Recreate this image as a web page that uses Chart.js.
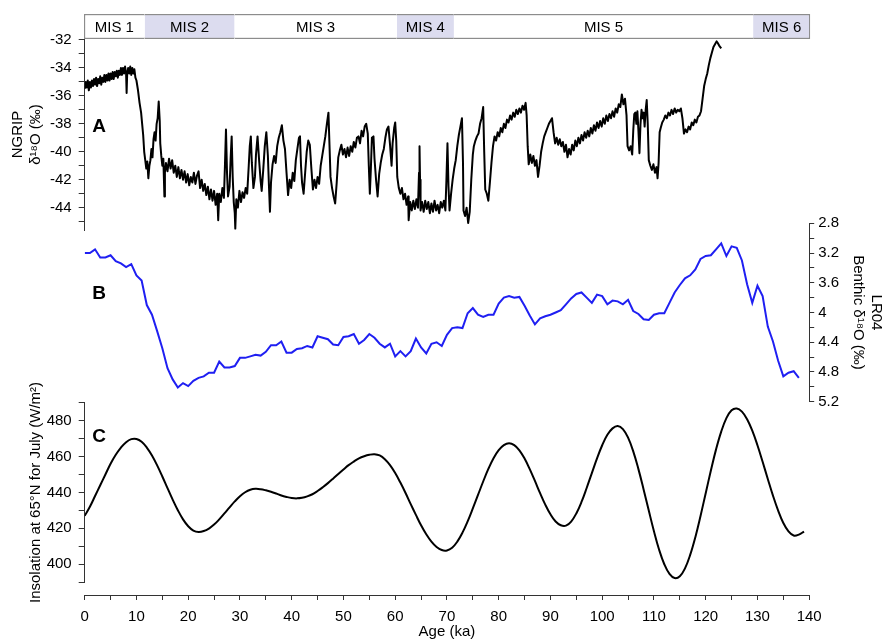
<!DOCTYPE html>
<html>
<head>
<meta charset="utf-8">
<script src="https://cdn.jsdelivr.net/npm/chart.js@4"></script>
<style>
body{margin:0;background:#fff}
#wrap{position:relative;width:885px;height:640px;background:#fff}
#wrap canvas{position:absolute;left:0;top:0}
</style>
</head>
<body>
<div id="wrap">
<canvas id="misChart" width="885" height="640"></canvas>
<canvas id="ngripChart" width="885" height="640"></canvas>
<canvas id="lr04Chart" width="885" height="640"></canvas>
<canvas id="insolChart" width="885" height="640"></canvas>
<canvas id="ageChart" width="885" height="640"></canvas>
</div>
<script>
// Marine isotope stages (ka)
const misStages = ['MIS 1', 'MIS 2', 'MIS 3', 'MIS 4', 'MIS 5', 'MIS 6'];
const misStart = [0, 11.7, 29, 60.3, 71.3, 129];
const misEnd = [11.7, 29, 60.3, 71.3, 129, 140];

// A - NGRIP d18O [age ka, permil]
const ngrip = [
  [0,-35.5],[0.2,-35.0],[0.4,-35.4],[0.6,-34.9],[0.8,-35.6],[1.0,-35.0],[1.2,-35.4],[1.4,-34.9],[1.6,-35.3],[1.8,-34.8],
  [2.0,-35.2],[2.2,-34.7],[2.4,-35.3],[2.6,-34.8],[2.8,-35.1],[3.0,-34.6],[3.2,-35.2],[3.4,-34.7],[3.6,-35.0],[3.8,-34.5],
  [4.0,-35.0],[4.2,-34.5],[4.4,-34.9],[4.6,-34.4],[4.8,-34.9],[5.0,-34.4],[5.2,-34.8],[5.4,-34.3],[5.6,-34.8],[5.8,-34.3],
  [6.0,-34.6],[6.2,-34.2],[6.4,-34.7],[6.6,-34.2],[6.8,-34.5],[7.0,-34.0],[7.2,-34.5],[7.4,-34.0],[7.6,-34.4],[7.8,-33.9],
  [8.0,-34.4],[8.1,-35.8],[8.2,-34.5],[8.4,-34.0],[8.6,-34.4],[8.8,-33.9],[9.0,-34.5],[9.2,-34.0],[9.4,-34.4],[9.6,-34.1],
  [9.8,-34.7],[10.0,-34.9],[10.3,-35.6],[10.6,-36.5],
  [10.9,-37.2],[11.1,-38.0],[11.3,-38.8],[11.5,-40.0],[11.7,-40.6],[11.9,-41.2],[12.1,-40.7],[12.3,-41.9],[12.5,-41.0],[12.7,-40.6],
  [12.9,-39.8],[13.1,-40.4],[13.3,-39.1],[13.5,-38.6],[13.7,-39.2],[13.9,-38.0],[14.1,-37.6],[14.3,-36.4],[14.5,-37.8],[14.6,-39.4],
  [14.8,-40.3],[15.0,-41.0],[15.2,-40.5],[15.4,-43.2],[15.5,-41.5],[15.7,-40.8],[16.0,-41.4],[16.3,-40.5],[16.6,-41.2],[16.9,-40.6],
  [17.2,-41.5],[17.5,-41.0],[17.8,-41.8],[18.1,-41.1],[18.4,-41.9],[18.7,-41.3],[19.0,-42.0],[19.3,-41.4],[19.6,-42.2],[19.9,-41.6],
  [20.2,-42.4],[20.5,-41.8],[20.8,-42.2],[21.1,-41.5],[21.4,-42.3],[21.7,-41.7],[22.0,-41.4],[22.3,-42.6],[22.6,-42.0],[22.9,-42.8],
  [23.2,-42.3],[23.5,-43.1],[23.8,-42.5],[24.1,-43.4],[24.4,-42.7],[24.7,-43.5],[25.0,-42.8],[25.3,-43.8],[25.6,-43.0],[25.8,-44.9],
  [26.0,-43.0],[26.3,-43.6],[26.6,-42.6],[26.9,-43.3],[27.1,-41.0],[27.3,-38.4],[27.5,-41.5],[27.7,-43.2],[28.0,-42.5],[28.2,-40.5],
  [28.4,-38.9],[28.6,-41.8],[28.8,-43.6],[29.0,-44.4],[29.1,-45.5],[29.3,-43.4],[29.6,-44.0],[29.9,-42.8],[30.2,-43.6],[30.5,-42.9],
  [30.8,-43.3],[31.1,-42.6],[31.4,-43.0],[31.7,-41.0],[31.9,-39.6],[32.1,-38.9],[32.3,-40.8],[32.6,-42.6],[32.9,-41.8],[33.1,-40.2],
  [33.4,-38.9],[33.7,-40.6],[34.0,-42.1],[34.2,-42.8],[34.5,-41.3],[34.8,-39.6],[35.1,-38.6],[35.4,-40.3],[35.6,-42.4],[35.8,-44.3],
  [36.0,-42.2],[36.3,-40.9],[36.6,-40.3],[36.9,-40.8],[37.2,-39.6],[37.5,-39.0],[37.8,-38.6],[38.1,-38.1],[38.4,-39.2],[38.7,-39.8],
  [39.0,-41.5],[39.3,-43.1],[39.6,-42.0],[39.9,-42.6],[40.2,-41.5],[40.5,-42.1],[40.8,-40.6],[41.1,-39.8],[41.4,-39.0],[41.6,-38.9],
  [41.8,-41.0],[42.0,-42.2],[42.3,-43.0],[42.6,-41.5],[42.9,-40.0],[43.2,-39.2],[43.5,-39.5],[43.8,-41.2],[44.1,-42.7],[44.4,-42.0],
  [44.7,-42.6],[45.0,-41.8],[45.3,-42.3],[45.6,-41.0],[45.9,-40.3],[46.2,-39.6],[46.5,-38.9],[46.8,-38.0],[47.1,-37.2],[47.3,-39.5],
  [47.5,-41.8],[47.8,-42.6],[48.1,-43.2],[48.4,-43.7],[48.7,-42.2],[49.0,-40.4],[49.3,-39.9],[49.6,-39.5],[49.9,-40.2],[50.2,-39.8],
  [50.5,-40.4],[50.8,-39.7],[51.1,-40.3],[51.4,-39.6],[51.7,-40.0],[52.0,-39.3],[52.3,-39.7],[52.6,-39.0],[52.9,-38.9],[53.2,-39.4],
  [53.5,-38.5],[53.8,-38.9],[54.1,-38.2],[54.4,-38.0],[54.7,-38.7],[54.9,-41.0],[55.1,-43.0],[55.3,-41.2],[55.5,-39.0],[55.8,-38.9],
  [56.0,-40.5],[56.3,-42.0],[56.6,-43.2],[56.9,-41.6],[57.2,-40.8],[57.5,-40.2],[57.8,-39.8],[58.1,-39.0],[58.4,-38.4],[58.7,-38.2],
  [59.0,-39.5],[59.3,-41.0],[59.5,-39.4],[59.8,-38.3],[60.0,-37.9],[60.2,-39.2],[60.4,-41.8],[60.7,-42.6],[61.0,-43.0],[61.3,-42.6],
  [61.6,-43.4],[61.9,-43.0],[62.2,-43.8],[62.5,-43.2],[62.6,-44.9],[62.9,-43.6],[63.2,-44.2],[63.5,-43.5],[63.8,-44.1],[64.1,-43.4],
  [64.4,-44.0],[64.6,-41.5],[64.7,-39.6],[64.8,-42.0],[64.9,-44.2],[65.2,-43.6],[65.5,-44.3],[65.8,-43.5],[66.1,-44.1],[66.4,-43.6],
  [66.7,-44.4],[67.0,-43.7],[67.3,-44.3],[67.6,-43.5],[67.9,-44.2],[68.2,-43.8],[68.5,-44.4],[68.8,-43.6],[69.1,-44.0],[69.4,-43.5],
  [69.7,-44.2],[69.9,-42.0],[70.1,-39.4],[70.3,-42.5],[70.5,-44.2],[70.8,-43.0],[71.1,-42.0],[71.4,-41.2],[71.7,-40.6],[72.0,-39.6],
  [72.3,-38.8],[72.6,-38.2],[72.9,-37.6],[73.1,-40.8],[73.2,-44.2],[73.5,-44.6],[73.8,-44.0],[74.1,-45.1],[74.4,-44.3],[74.7,-42.0],
  [75.0,-40.2],[75.2,-39.6],[75.5,-39.2],[75.8,-38.9],[76.1,-38.7],[76.4,-38.0],[76.7,-37.6],[77.0,-36.8],[77.2,-40.0],[77.4,-42.7],
  [77.7,-43.0],[78.0,-43.5],[78.3,-42.2],[78.6,-40.8],[78.9,-39.6],[79.2,-38.9],[79.5,-39.2],[79.8,-38.6],[80.1,-38.9],[80.4,-38.3],
  [80.7,-38.6],[81.0,-38.0],[81.3,-38.3],[81.6,-37.7],[81.9,-37.9],[82.2,-37.4],[82.5,-37.7],[82.8,-37.2],[83.1,-37.5],[83.4,-37.0],
  [83.7,-37.3],[84.0,-36.9],[84.3,-37.2],[84.6,-36.7],[84.9,-37.0],[85.2,-36.5],[85.4,-37.4],[85.6,-39.6],[85.8,-40.9],[86.1,-40.2],
  [86.4,-40.8],[86.7,-40.3],[87.0,-41.0],[87.3,-40.6],[87.6,-41.8],[87.9,-41.0],[88.2,-40.0],[88.5,-39.4],[88.8,-38.9],[89.1,-38.6],
  [89.4,-38.3],[89.7,-38.0],[90.0,-37.8],[90.3,-37.6],[90.6,-38.6],[90.9,-39.4],[91.2,-39.0],[91.5,-39.5],[91.8,-39.1],[92.1,-39.6],
  [92.4,-39.3],[92.7,-40.0],[93.0,-39.5],[93.3,-40.4],[93.6,-39.8],[93.9,-40.2],[94.2,-39.5],[94.5,-39.9],[94.8,-39.2],[95.1,-39.6],
  [95.4,-39.0],[95.7,-39.4],[96.0,-38.8],[96.3,-39.2],[96.6,-38.6],[96.9,-39.0],[97.2,-38.5],[97.5,-38.9],[97.8,-38.3],[98.1,-38.7],
  [98.4,-38.1],[98.7,-38.5],[99.0,-37.9],[99.3,-38.3],[99.6,-37.8],[99.9,-38.2],[100.2,-37.6],[100.5,-38.0],[100.8,-37.4],[101.1,-37.8],
  [101.4,-37.3],[101.7,-37.6],[102.0,-37.1],[102.3,-37.5],[102.6,-36.9],[102.9,-37.2],[103.2,-36.6],[103.5,-36.8],[103.8,-35.9],[104.1,-36.6],
  [104.4,-36.2],[104.7,-37.4],[104.9,-39.6],[105.2,-39.9],[105.5,-39.6],[105.8,-40.2],[106.0,-38.5],[106.2,-37.3],[106.4,-37.2],[106.6,-38.0],
  [106.8,-37.1],[107.0,-38.5],[107.2,-40.1],[107.4,-38.0],[107.6,-37.0],[107.8,-37.6],[108.0,-37.2],[108.2,-38.2],[108.4,-37.0],[108.6,-36.3],
  [108.8,-38.0],[109.0,-40.6],[109.3,-41.0],[109.6,-41.3],[109.9,-40.9],[110.2,-41.5],[110.5,-41.1],[110.7,-41.9],[110.9,-40.8],[111.1,-38.6],
  [111.3,-38.3],[111.6,-37.9],[111.9,-37.7],[112.2,-37.4],[112.5,-37.6],[112.8,-37.2],[113.1,-37.4],[113.4,-37.0],[113.7,-37.3],[114.0,-36.9],
  [114.3,-37.2],[114.6,-37.0],[114.9,-37.1],[115.2,-36.9],[115.5,-37.6],[115.8,-38.7],[116.1,-38.4],[116.4,-38.6],[116.7,-38.2],[117.0,-38.4],
  [117.3,-37.9],[117.6,-38.1],[117.9,-37.7],[118.2,-37.9],[118.5,-37.5],[118.8,-37.4],[119.1,-37.1],[119.4,-36.2],[119.7,-35.3],[120.0,-34.8],
  [120.3,-34.4],[120.6,-33.8],[120.9,-33.3],[121.2,-32.9],[121.5,-32.5],[121.8,-32.3],[122.1,-32.1],[122.3,-32.2],[122.6,-32.4],[123.0,-32.6]
];
const ngripTicks = [-45,-44,-43,-42,-41,-40,-39,-38,-37,-36,-35,-34,-33,-32];
const ngripLabels = [-44,-42,-40,-38,-36,-34,-32];

// B - LR04 benthic d18O
const lrAge = [0,1,2,3,4,5,6,7,8,9,10,11,12,13,14,15,16,17,18,19,20,21,22,23,24,25,26,27,28,29,
  30,31,32,33,34,35,36,37,38,39,40,41,42,43,44,45,46,47,48,49,50,51,52,53,54,55,56,57,58,59,
  60,61,62,63,64,65,66,67,68,69,70,71,72,73,74,75,76,77,78,79,80,81,82,83,84,85,86,87,88,89,
  90,91,92,93,94,95,96,97,98,99,100,101,102,103,104,105,106,107,108,109,110,111,112,113,114,115,116,117,118,119,
  120,121,122,123,124,125,126,127,128,129,130,131,132,133,134,135,136,137,138];
const lrVal = [3.20,3.20,3.15,3.26,3.26,3.23,3.31,3.34,3.39,3.35,3.50,3.57,3.90,4.03,4.25,4.48,4.75,4.90,5.01,4.95,
  4.99,4.92,4.88,4.86,4.81,4.81,4.66,4.74,4.74,4.72,4.61,4.61,4.59,4.57,4.58,4.53,4.44,4.44,4.39,4.54,
  4.54,4.49,4.48,4.45,4.47,4.32,4.34,4.36,4.43,4.44,4.33,4.32,4.29,4.42,4.37,4.29,4.34,4.42,4.47,4.42,
  4.59,4.52,4.59,4.52,4.35,4.47,4.55,4.42,4.40,4.45,4.30,4.21,4.20,4.21,4.01,3.94,4.03,4.06,4.03,4.03,
  3.88,3.80,3.78,3.80,3.79,3.91,4.04,4.16,4.08,4.05,4.03,4.00,3.97,3.89,3.81,3.75,3.73,3.80,3.87,3.76,
  3.78,3.89,3.84,3.85,3.89,3.83,3.98,4.02,4.09,4.10,4.03,4.01,4.01,3.87,3.73,3.63,3.54,3.50,3.42,3.28,
  3.24,3.23,3.15,3.07,3.24,3.11,3.13,3.30,3.62,3.87,3.64,3.78,4.19,4.39,4.65,4.86,4.81,4.79,4.88];
const lrTicks = [2.8,3,3.2,3.4,3.6,3.8,4,4.2,4.4,4.6,4.8,5,5.2];
const lrLabels = [2.8,3.2,3.6,4,4.4,4.8,5.2];

// C - July insolation at 65N (W/m2), one value per ka from 0
const insol = [427.0,432,438,444,450,456,461,465,468,469.7,469.8,468.2,465.0,460.6,455.1,448.9,442.4,436.0,430.1,425.0,
  421.2,418.8,418.0,418.5,419.9,422.1,425.0,428.3,431.7,435.0,437.9,440.1,441.5,442.0,441.8,441.2,440.4,439.4,438.3,437.5,
  436.9,436.7,437.0,437.8,439.0,440.8,442.9,445.2,447.7,450.3,452.8,455.2,457.2,459.0,460.2,461.0,461.3,460.6,458.5,455.2,
  450.8,445.5,439.7,433.5,427.5,421.7,416.7,412.6,409.6,407.9,407.7,409.2,412.6,417.6,423.9,431.1,438.6,446.1,453.1,459.1,
  463.6,466.4,467.4,466.4,463.5,458.9,453.0,446.4,439.6,433.2,427.8,423.8,421.7,421.5,423.8,428.3,434.7,442.5,450.8,459.0,
  466.3,472.1,475.7,477.0,475.3,470.5,462.9,453.0,441.7,429.9,418.4,408.1,400.0,394.6,392.3,393.3,397.7,405.2,415.1,426.9,
  439.6,452.2,464.0,473.9,481.4,485.8,486.8,485.0,480.8,474.4,466.3,457.1,447.5,438.2,429.9,423.0,418.3,416.0,416.5,418.2];
const insolTicks = [390,400,410,420,430,440,450,460,470,480,490];
const insolLabels = [400,420,440,460,480];

// shared age axis
const ageTicks = [0,5,10,15,20,25,30,35,40,45,50,55,60,65,70,75,80,85,90,95,100,105,110,115,120,125,130,135,140];
const ageLabels = [0,10,20,30,40,50,60,70,80,90,100,110,120,130,140];

// layout
const W = 885, H = 640;
const LEFT = 84.7, RIGHT = 809.2;
const AX = '#333';
const FONT = '"Liberation Sans", Arial, sans-serif';

Chart.defaults.font.family = FONT;
Chart.defaults.font.size = 15;
Chart.defaults.color = '#000';

const base = {
  responsive: false,
  animation: false,
  devicePixelRatio: 1,
  events: []
};

// lettera del pannello
const panelLetter = {
  id: 'panelLetter',
  afterDraw(chart, args, opts) {
    const ctx = chart.ctx;
    ctx.save();
    ctx.font = 'bold 19px ' + FONT;
    ctx.fillStyle = '#000';
    ctx.textAlign = 'center';
    ctx.textBaseline = 'middle';
    ctx.fillText(opts.text, chart.scales.x.getPixelForValue(opts.x), chart.scales.y.getPixelForValue(opts.y));
    ctx.restore();
  }
};

// testo MIS dentro le barre
const misText = {
  id: 'misText',
  afterDatasetsDraw(chart) {
    const ctx = chart.ctx;
    ctx.save();
    ctx.font = '15px ' + FONT;
    ctx.fillStyle = '#000';
    ctx.textAlign = 'center';
    ctx.textBaseline = 'middle';
    misStages.forEach((name, i) => {
      const el = chart.getDatasetMeta(i).data[0];
      ctx.fillText(name, (el.x + el.base) / 2, el.y + 1);
    });
    ctx.restore();
  }
};

function yAxis(cfg) {
  return {
    position: cfg.position || 'left',
    reverse: !!cfg.reverse,
    min: cfg.min,
    max: cfg.max,
    afterFit: s => { s.width = cfg.width; },
    afterBuildTicks: s => { s.ticks = cfg.ticks.map(v => ({ value: v })); },
    ticks: {
      autoSkip: false,
      padding: cfg.padding,
      color: '#000',
      callback: v => cfg.labels.includes(v) ? String(v) : ''
    },
    grid: { drawOnChartArea: false, tickLength: cfg.tickLength, color: AX },
    border: { color: AX, width: 1 },
    title: { display: true, text: cfg.title, color: '#000', padding: { top: cfg.titlePad, bottom: 0 } }
  };
}

// MIS band
new Chart(document.getElementById('misChart'), {
  type: 'bar',
  data: {
    labels: ['MIS'],
    datasets: misStages.map((name, i) => ({
      label: name,
      data: [[misStart[i], misEnd[i]]],
      backgroundColor: i % 2 === 1 ? '#dcdcef' : '#ffffff',
      borderColor: '#8c8c8c',
      borderWidth: { top: 1.5, bottom: 1.5, left: i === 0 ? 1.5 : 0, right: i === misStages.length - 1 ? 1.5 : 0 },
      borderSkipped: false,
      barPercentage: 1,
      categoryPercentage: 1,
      grouped: false
    }))
  },
  options: Object.assign({}, base, {
    indexAxis: 'y',
    layout: { padding: { left: LEFT - 0.7, right: W - RIGHT - 1, top: 14, bottom: H - 39 } },
    plugins: { legend: { display: false }, tooltip: { enabled: false } },
    scales: {
      x: { type: 'linear', min: 0, max: 140, display: false },
      y: { display: false }
    }
  }),
  plugins: [misText]
});

// A - NGRIP
new Chart(document.getElementById('ngripChart'), {
  type: 'line',
  data: {
    datasets: [{
      data: ngrip.map(p => ({ x: p[0], y: p[1] })),
      borderColor: '#000',
      borderWidth: 2,
      borderJoinStyle: 'round',
      pointRadius: 0,
      tension: 0
    }]
  },
  options: Object.assign({}, base, {
    layout: { padding: { left: 0, right: W - RIGHT, top: 39, bottom: H - 230 } },
    plugins: { legend: { display: false }, tooltip: { enabled: false }, panelLetter: { text: 'A', x: 2.8, y: -38.2 } },
    scales: {
      x: { type: 'linear', min: 0, max: 140, display: false },
      y: yAxis({ min: -45.6, max: -31.93, width: LEFT, ticks: ngripTicks, labels: ngripLabels,
                 padding: 7, tickLength: 6, title: ['NGRIP', 'δ¹⁸O (‰)'], titlePad: 9.3 })
    }
  }),
  plugins: [panelLetter]
});

// B - LR04
new Chart(document.getElementById('lr04Chart'), {
  type: 'line',
  data: {
    datasets: [{
      data: lrAge.map((a, i) => ({ x: a, y: lrVal[i] })),
      borderColor: '#1f1ff2',
      borderWidth: 2,
      pointRadius: 0,
      tension: 0
    }]
  },
  options: Object.assign({}, base, {
    layout: { padding: { left: LEFT, right: 0, top: 223.3, bottom: H - 401.7 } },
    plugins: { legend: { display: false }, tooltip: { enabled: false }, panelLetter: { text: 'B', x: 2.8, y: 3.75 } },
    scales: {
      x: { type: 'linear', min: 0, max: 140, display: false },
      y: yAxis({ position: 'right', reverse: true, min: 2.8, max: 5.2, width: W - RIGHT, ticks: lrTicks, labels: lrLabels,
                 padding: 4, tickLength: 5, title: ['LR04', 'Benthic δ¹⁸O (‰)'], titlePad: 0 })
    }
  }),
  plugins: [panelLetter]
});

// C - insolation
new Chart(document.getElementById('insolChart'), {
  type: 'line',
  data: {
    datasets: [{
      data: insol.map((v, i) => ({ x: i, y: v })),
      borderColor: '#000',
      borderWidth: 2,
      pointRadius: 0,
      tension: 0.4
    }]
  },
  options: Object.assign({}, base, {
    layout: { padding: { left: 0, right: W - RIGHT, top: 402.7, bottom: H - 582.2 } },
    plugins: { legend: { display: false }, tooltip: { enabled: false }, panelLetter: { text: 'C', x: 2.8, y: 471 } },
    scales: {
      x: { type: 'linear', min: 0, max: 140, display: false },
      y: yAxis({ min: 390, max: 490, width: LEFT, ticks: insolTicks, labels: insolLabels,
                 padding: 7, tickLength: 6, title: 'Insolation at 65°N for July (W/m²)', titlePad: 27 })
    }
  }),
  plugins: [panelLetter]
});

// asse delle eta
new Chart(document.getElementById('ageChart'), {
  type: 'line',
  data: { datasets: [] },
  options: Object.assign({}, base, {
    layout: { padding: { left: LEFT, right: W - RIGHT, top: 585, bottom: 0 } },
    plugins: { legend: { display: false }, tooltip: { enabled: false } },
    scales: {
      x: {
        type: 'linear', position: 'bottom', min: 0, max: 140,
        afterFit: s => { s.height = H - 595; },
        afterBuildTicks: s => { s.ticks = ageTicks.map(v => ({ value: v })); },
        ticks: { autoSkip: false, maxRotation: 0, padding: 8, color: '#000',
                 callback: v => ageLabels.includes(v) ? String(v) : '' },
        grid: { drawOnChartArea: false, tickLength: 5, color: AX },
        border: { color: AX, width: 1 },
        title: { display: true, text: 'Age (ka)', color: '#000', padding: { top: 0, bottom: -1 } }
      },
      y: { display: false }
    }
  })
});
</script>
</body>
</html>
